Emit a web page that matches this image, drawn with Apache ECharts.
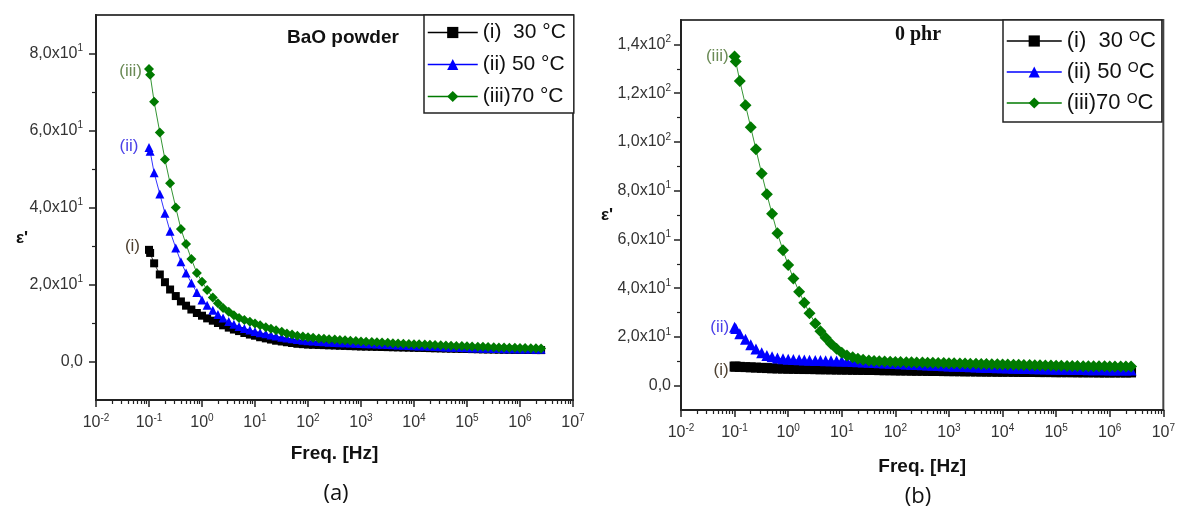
<!DOCTYPE html>
<html>
<head>
<meta charset="utf-8">
<script src="https://cdn.jsdelivr.net/npm/echarts@6/dist/echarts.min.js"></script>
<style>
  html, body { margin: 0; padding: 0; background: #fff; }
  #chart { width: 1178px; height: 513px; }
</style>
</head>
<body>
<div id="chart"></div>
<script>
// Measurement frequencies (Hz), shared by every sweep
const freqHz = [
  0.1, 0.105, 0.125, 0.16, 0.2, 0.25, 0.32, 0.4, 0.5, 0.63, 0.8,
  1, 1.25, 1.6, 2, 2.5, 3.2, 4, 5, 6.3, 8,
  10, 12.5, 16, 20, 25, 32, 40, 50, 63, 80,
  100, 125, 160, 200, 250, 320, 400, 500, 630, 800,
  1e3, 1.25e3, 1.6e3, 2e3, 2.5e3, 3.2e3, 4e3, 5e3, 6.3e3, 8e3,
  1e4, 1.25e4, 1.6e4, 2e4, 2.5e4, 3.2e4, 4e4, 5e4, 6.3e4, 8e4,
  1e5, 1.25e5, 1.6e5, 2e5, 2.5e5, 3.2e5, 4e5, 5e5, 6.3e5, 8e5,
  1e6, 1.25e6, 1.6e6, 2e6, 2.5e6
];

// (a) BaO powder: real permittivity
const epsA30 = [
  29.0, 28.2, 25.5, 22.6, 20.6, 18.7, 17.0, 15.6, 14.5, 13.5, 12.6,
  11.9, 11.2, 10.6, 10.0, 9.4, 8.8, 8.3, 7.9, 7.4, 7.0,
  6.7, 6.3, 6.0, 5.7, 5.4, 5.2, 5.0, 4.8, 4.6, 4.5,
  4.4, 4.35, 4.3, 4.25, 4.2, 4.15, 4.1, 4.05, 4.0, 3.95,
  3.9, 3.87, 3.83, 3.8, 3.77, 3.73, 3.7, 3.67, 3.63, 3.6,
  3.57, 3.53, 3.5, 3.47, 3.43, 3.4, 3.37, 3.33, 3.3, 3.27,
  3.24, 3.21, 3.18, 3.15, 3.12, 3.1, 3.08, 3.06, 3.04, 3.02,
  3.0, 2.99, 2.98, 2.97, 2.96
];
const epsA50 = [
  55.6, 54.6, 49.0, 43.5, 38.5, 33.8, 29.5, 25.9, 23.0, 20.4, 17.9,
  16.0, 14.6, 13.3, 12.2, 11.3, 10.4, 9.7, 9.1, 8.6, 8.2,
  7.8, 7.5, 7.2, 6.9, 6.6, 6.3, 6.1, 5.9, 5.7, 5.5,
  5.4, 5.3, 5.2, 5.1, 5.0, 4.95, 4.9, 4.85, 4.8, 4.75,
  4.7, 4.64, 4.58, 4.52, 4.46, 4.4, 4.34, 4.28, 4.22, 4.16,
  4.1, 4.05, 4.0, 3.95, 3.9, 3.84, 3.78, 3.72, 3.67, 3.62,
  3.57, 3.52, 3.48, 3.44, 3.41, 3.38, 3.35, 3.32, 3.3, 3.28,
  3.26, 3.24, 3.22, 3.21, 3.2
];
const epsA70 = [
  76.0, 74.5, 67.5, 59.5, 52.5, 46.3, 40.0, 34.4, 30.5, 26.6, 23.0,
  20.7, 18.6, 16.6, 15.1, 13.9, 12.9, 12.0, 11.3, 10.8, 10.3,
  9.9, 9.4, 8.9, 8.5, 8.1, 7.7, 7.3, 7.0, 6.7, 6.5,
  6.3, 6.15, 6.0, 5.9, 5.8, 5.7, 5.6, 5.5, 5.4, 5.3,
  5.2, 5.12, 5.05, 4.98, 4.91, 4.84, 4.77, 4.7, 4.63, 4.57,
  4.51, 4.45, 4.39, 4.33, 4.27, 4.21, 4.15, 4.1, 4.05, 4.0,
  3.95, 3.9, 3.85, 3.8, 3.75, 3.7, 3.66, 3.62, 3.58, 3.55,
  3.52, 3.49, 3.46, 3.43, 3.4
];

// (b) 0 phr: real permittivity
const epsB30 = [
  7.8, 7.8, 7.7, 7.6, 7.5, 7.4, 7.3, 7.2, 7.1, 7.05, 7.0,
  6.95, 6.9, 6.85, 6.8, 6.8, 6.75, 6.7, 6.7, 6.65, 6.6,
  6.6, 6.55, 6.5, 6.5, 6.45, 6.4, 6.4, 6.35, 6.3, 6.3,
  6.25, 6.2, 6.2, 6.15, 6.1, 6.1, 6.05, 6.0, 6.0, 5.95,
  5.95, 5.9, 5.9, 5.85, 5.85, 5.8, 5.8, 5.75, 5.75, 5.7,
  5.7, 5.7, 5.65, 5.65, 5.6, 5.6, 5.6, 5.55, 5.55, 5.55,
  5.5, 5.5, 5.5, 5.5, 5.45, 5.45, 5.45, 5.45, 5.4, 5.4,
  5.4, 5.4, 5.4, 5.4, 5.4
];
const epsB50 = [
  24.0, 23.4, 21.3, 19.0, 16.8, 15.0, 13.5, 12.4, 11.8, 11.3, 11.0,
  10.8, 10.7, 10.6, 10.5, 10.4, 10.35, 10.3, 10.25, 10.2, 10.15,
  10.1, 10.0, 9.9, 9.8, 9.7, 9.6, 9.5, 9.4, 9.3, 9.2,
  9.1, 9.0, 8.9, 8.8, 8.7, 8.6, 8.5, 8.4, 8.3, 8.2,
  8.1, 8.0, 7.9, 7.8, 7.7, 7.6, 7.5, 7.45, 7.4, 7.35,
  7.3, 7.2, 7.15, 7.1, 7.05, 7.0, 6.95, 6.9, 6.85, 6.8,
  6.75, 6.7, 6.7, 6.65, 6.6, 6.6, 6.55, 6.55, 6.5, 6.5,
  6.45, 6.45, 6.4, 6.4, 6.4
];
const epsB70 = [
  135, 133, 125, 115, 106, 97, 87, 78.5, 70.5, 62.5, 55.5,
  49.5, 44, 38.5, 34, 29.7, 25.5, 22.3, 19.6, 17.2, 15.1,
  13.5, 12.4, 11.6, 11.0, 10.6, 10.3, 10.1, 10.0, 9.9, 9.8,
  9.7, 9.65, 9.6, 9.55, 9.5, 9.45, 9.4, 9.35, 9.3, 9.25,
  9.2, 9.15, 9.1, 9.05, 9.0, 8.95, 8.9, 8.85, 8.8, 8.75,
  8.7, 8.65, 8.6, 8.55, 8.5, 8.45, 8.4, 8.35, 8.3, 8.25,
  8.2, 8.15, 8.1, 8.1, 8.05, 8.0, 8.0, 7.95, 7.9, 7.9,
  7.85, 7.85, 7.8, 7.8, 7.8
];

// Legend entries and curve tags
const namesA = ['(i)  30 °C', '(ii) 50 °C', '(iii)70 °C'];
const namesB = ['(i)  30 oC', '(ii) 50 oC', '(iii)70 oC'];
const curveTags = ['(i)', '(ii)', '(iii)'];

// Tick positions
const yMajorA = [0, 20, 40, 60, 80];
const yMinorA = [10, 30, 50, 70];
const yMajorB = [0, 20, 40, 60, 80, 100, 120, 140];
const yMinorB = [10, 30, 50, 70, 90, 110, 130];
const xDecades = [-2, -1, 0, 1, 2, 3, 4, 5, 6];
const xMinor = [];
xDecades.forEach(function (e) {
  for (let m = 2; m <= 9; m++) xMinor.push(+(m * Math.pow(10, e)).toPrecision(3));
});

const FONT = "'Liberation Sans', Arial, sans-serif";
const INK = '#222';
const LABEL_INK = '#333';
const COLORS = ['#000000', '#0000ff', '#007a00'];
const TAG_COLORS = ['#4e4030', '#4a40e8', '#6a8a55'];

function yLabel(v) {
  if (v === 0) return '{m|0,0}';
  const e = Math.floor(Math.log10(v) + 1e-9);
  const m = (v / Math.pow(10, e)).toFixed(1).replace('.', ',');
  return '{m|' + m + 'x10}{s|' + e + '}';
}
function xLabel(v) {
  return '{m|10}{s|' + Math.round(Math.log10(v)) + '}';
}
const yRich = {
  m: { fontSize: 16, fontFamily: FONT, color: LABEL_INK, lineHeight: 20 },
  s: { fontSize: 10, fontFamily: FONT, color: LABEL_INK, verticalAlign: 'top', lineHeight: 12 }
};
const xRich = {
  m: { fontSize: 16, fontFamily: FONT, color: LABEL_INK, lineHeight: 20 },
  s: { fontSize: 10, fontFamily: FONT, color: LABEL_INK, verticalAlign: 'top', lineHeight: 12 }
};

function mainX(grid, nameGap) {
  return {
    gridIndex: grid, type: 'log', logBase: 10, min: 0.01, max: 1e7, position: 'bottom',
    axisLine: { show: true, onZero: false, lineStyle: { color: INK, width: 2 } },
    axisTick: { show: true, length: 7, lineStyle: { color: INK, width: 1.5 } },
    axisLabel: { formatter: xLabel, rich: xRich, margin: 13 },
    splitLine: { show: false }, minorTick: { show: false },
    name: 'Freq. [Hz]', nameLocation: 'middle', nameGap: nameGap,
    nameTextStyle: { fontFamily: FONT, fontWeight: 'bold', fontSize: 19, color: '#111' }
  };
}
function minorX(grid) {
  return {
    gridIndex: grid, type: 'log', logBase: 10, min: 0.01, max: 1e7, position: 'bottom',
    axisLine: { show: false, onZero: false },
    axisTick: { show: true, customValues: xMinor, length: 4, lineStyle: { color: INK, width: 1.2 } },
    axisLabel: { show: false }, splitLine: { show: false }
  };
}
function mainY(grid, min, max, majors, margin) {
  return {
    gridIndex: grid, type: 'value', min: min, max: max, position: 'left',
    axisLine: { show: true, onZero: false, lineStyle: { color: INK, width: 2 } },
    axisTick: { show: true, customValues: majors, length: 7, lineStyle: { color: INK, width: 1.5 } },
    axisLabel: { customValues: majors, formatter: yLabel, rich: yRich, margin: margin },
    splitLine: { show: false }
  };
}
function minorY(grid, min, max, minors) {
  return {
    gridIndex: grid, type: 'value', min: min, max: max, position: 'left',
    axisLine: { show: false, onZero: false },
    axisTick: { show: true, customValues: minors, length: 4, lineStyle: { color: INK, width: 1.2 } },
    axisLabel: { show: false }, splitLine: { show: false }
  };
}

const SYMBOLS = ['rect', 'triangle', 'diamond'];

function curve(name, values, panel, k, sizes, tagLabel) {
  const data = freqHz.map(function (f, i) {
    if (i !== 0) return [f, values[i]];
    return {
      value: [f, values[i]],
      label: Object.assign({
        show: true, position: 'left', formatter: curveTags[k],
        fontFamily: FONT, fontSize: 17, color: TAG_COLORS[k]
      }, tagLabel)
    };
  });
  return {
    type: 'line', name: name, xAxisIndex: panel * 2, yAxisIndex: panel * 2,
    data: data, symbol: SYMBOLS[k], symbolSize: sizes[k], showAllSymbol: true,
    itemStyle: { color: COLORS[k] },
    lineStyle: { color: COLORS[k], width: 0.8 },
    z: 2 + k, animation: false
  };
}

const sizesA = [8, 9, 10];
const sizesB = [10, 11, 12];
const epsA = [epsA30, epsA50, epsA70];
const epsB = [epsB30, epsB50, epsB70];
const tagA = [
  { distance: 5, offset: [0, -4] },
  { distance: 6, offset: [0, -1] },
  { distance: 2, offset: [0, 2] }
];
const tagB = [
  { distance: 1, offset: [0, 4] },
  { distance: 0, offset: [0, 0] },
  { distance: 0, offset: [0, 0] }
];

const series = [];
for (let k = 0; k < 3; k++) series.push(curve(namesA[k], epsA[k], 0, k, sizesA, tagA[k]));
for (let k = 0; k < 3; k++) series.push(curve(namesB[k], epsB[k], 1, k, sizesB, tagB[k]));

const legendBase = {
  orient: 'vertical', selectedMode: false, backgroundColor: '#fff',
  borderColor: INK, borderWidth: 1.5, borderRadius: 0,
  lineStyle: { width: 1.5 }
};

const option = {
  backgroundColor: '#fff',
  animation: false,
  grid: [
    { left: 96, top: 15, width: 477, height: 385, show: true, borderColor: '#444', borderWidth: 2, backgroundColor: 'transparent' },
    { left: 681, top: 20, width: 484, height: 390, show: true, borderColor: '#444', borderWidth: 2, backgroundColor: 'transparent' }
  ],
  xAxis: [mainX(0, 44), minorX(0), mainX(1, 47), minorX(1)],
  yAxis: [
    mainY(0, -10, 90, yMajorA, 13), minorY(0, -10, 90, yMinorA),
    mainY(1, -10, 150, yMajorB, 10), minorY(1, -10, 150, yMinorB)
  ],
  legend: [
    Object.assign({}, legendBase, {
      data: namesA, left: 424, top: 15, itemWidth: 50, itemHeight: 14, itemGap: 11,
      padding: [7, 8, 6, 3],
      textStyle: { fontFamily: FONT, fontSize: 21, color: '#111' }
    }),
    Object.assign({}, legendBase, {
      data: namesB, left: 1003, top: 20, itemWidth: 55, itemHeight: 14, itemGap: 9,
      padding: [10, 6, 8, 3],
      formatter: function (n) { return n.replace(' oC', ' {s|O}C'); },
      textStyle: {
        fontFamily: FONT, fontSize: 22, color: '#111',
        rich: { s: { fontFamily: FONT, fontSize: 14, color: '#111', verticalAlign: 'top', lineHeight: 14 } }
      }
    })
  ],
  graphic: [
    { type: 'text', x: 287, y: 38, style: { text: 'BaO powder', font: 'bold 19px ' + FONT, fill: '#111', textVerticalAlign: 'middle' } },
    { type: 'text', x: 895, y: 35, style: { text: '0 phr', font: "bold 20px 'Liberation Serif', serif", fill: '#111', textVerticalAlign: 'middle' } },
    { type: 'text', x: 22, y: 238, style: { text: "ε'", font: 'bold 17px ' + FONT, fill: '#111', textAlign: 'center', textVerticalAlign: 'middle' } },
    { type: 'text', x: 607, y: 215, style: { text: "ε'", font: 'bold 17px ' + FONT, fill: '#111', textAlign: 'center', textVerticalAlign: 'middle' } },
    { type: 'text', x: 336, y: 494, style: { text: '(a)', font: "22px 'Open Sans', sans-serif", fill: '#111', textAlign: 'center', textVerticalAlign: 'middle' } },
    { type: 'text', x: 918, y: 497, style: { text: '(b)', font: "22px 'Open Sans', sans-serif", fill: '#111', textAlign: 'center', textVerticalAlign: 'middle' } }
  ],
  series: series
};

const chart = echarts.init(document.getElementById('chart'), null, { renderer: 'canvas' });
chart.setOption(option);
</script>
</body>
</html>
